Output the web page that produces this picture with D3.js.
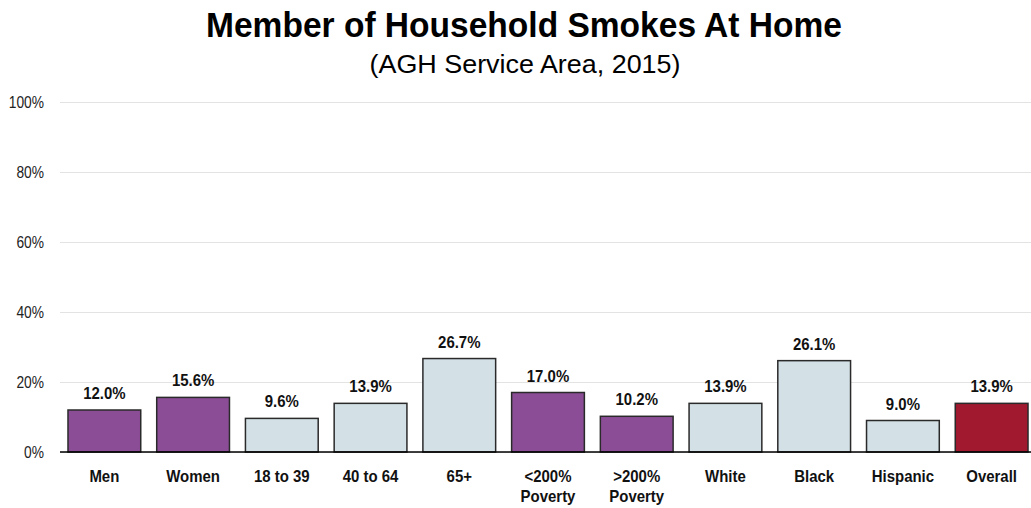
<!DOCTYPE html>
<html>
<head>
<meta charset="utf-8">
<script src="https://cdn.jsdelivr.net/npm/d3@7"></script>
<style>
  body { margin: 0; background: #fff; }
  svg { display: block; }
  text { font-family: "Liberation Sans", Arial, sans-serif; }
  .tick-lbl { font-size: 16px; fill: #222; }
  .val { font-size: 17px; font-weight: bold; fill: #111; }
  .cat { font-size: 17px; font-weight: bold; fill: #111; }
</style>
</head>
<body>
<script>
// data
var categories = ['Men', 'Women', '18 to 39', '40 to 64', '65+', '<200%\nPoverty', '>200%\nPoverty', 'White', 'Black', 'Hispanic', 'Overall'];
var values = [12.0, 15.6, 9.6, 13.9, 26.7, 17.0, 10.2, 13.9, 26.1, 9.0, 13.9];
var groups = ['sex', 'sex', 'age', 'age', 'age', 'income', 'income', 'race', 'race', 'race', 'total'];
var yTicks = [0, 20, 40, 60, 80, 100];

var colorOf = { sex: '#8b4d96', age: '#d3e0e5', income: '#8b4d96', race: '#d3e0e5', total: '#a0192e' };

var W = 1031, H = 508;
var svg = d3.select('body').append('svg').attr('width', W).attr('height', H);

// the original uses a narrow face, which is not installed: squeeze the glyphs instead
function squeeze(sel, f) {
  sel.each(function() {
    var len = this.getComputedTextLength();
    d3.select(this).attr('textLength', len * f).attr('lengthAdjust', 'spacingAndGlyphs');
  });
}

var x = d3.scaleBand()
  .domain(d3.range(categories.length))
  .range([60, 1036])
  .paddingInner(0.18)
  .paddingOuter(0.09);

var y = d3.scaleLinear().domain([0, 100]).range([452, 102]);

// title
svg.append('text')
  .attr('x', 524).attr('y', 37)
  .attr('text-anchor', 'middle')
  .style('font-size', '35px').style('font-weight', 'bold')
  .attr('textLength', 636).attr('lengthAdjust', 'spacingAndGlyphs')
  .text('Member of Household Smokes At Home');

svg.append('text')
  .attr('x', 525).attr('y', 73)
  .attr('text-anchor', 'middle')
  .style('font-size', '25.5px')
  .attr('textLength', 311).attr('lengthAdjust', 'spacingAndGlyphs')
  .text('(AGH Service Area, 2015)');

// gridlines + y labels
var yAxis = d3.axisLeft(y)
  .tickValues(yTicks)
  .tickSize(-(W - 60))
  .tickFormat(d => d + '%');

var gy = svg.append('g')
  .attr('transform', 'translate(60,0)')
  .call(yAxis)
  .attr('font-family', null).attr('font-size', null);
gy.select('.domain').remove();
gy.selectAll('.tick line').attr('stroke', '#e3e3e3').attr('stroke-width', 1);
gy.selectAll('.tick text')
  .attr('class', 'tick-lbl')
  .attr('x', -16)
  .attr('dy', '0.35em')
  .call(squeeze, 0.86);

// bars
svg.append('g').selectAll('rect')
  .data(values)
  .enter()
  .append('rect')
  .attr('x', (d, i) => x(i))
  .attr('y', d => y(d))
  .attr('width', x.bandwidth())
  .attr('height', d => y(0) - y(d))
  .attr('fill', (d, i) => colorOf[groups[i]])
  .attr('stroke', '#2a2a2a')
  .attr('stroke-width', 1.5);

// baseline
svg.append('line')
  .attr('x1', 60).attr('x2', W)
  .attr('y1', y(0)).attr('y2', y(0))
  .attr('stroke', '#000').attr('stroke-width', 1.5);

// value labels
svg.append('g').selectAll('text')
  .data(values)
  .enter()
  .append('text')
  .attr('class', 'val')
  .attr('x', (d, i) => x(i) + x.bandwidth() / 2)
  .attr('y', d => y(d) - 11)
  .attr('text-anchor', 'middle')
  .text(d => d.toFixed(1) + '%')
  .call(squeeze, 0.88);

// category labels
var cats = svg.append('g').selectAll('text')
  .data(categories)
  .enter()
  .append('text')
  .attr('class', 'cat')
  .attr('text-anchor', 'middle')
  .attr('x', (d, i) => x(i) + x.bandwidth() / 2)
  .attr('y', 482);

cats.selectAll('tspan')
  .data(d => d.split('\n'))
  .enter()
  .append('tspan')
  .attr('x', function() { return d3.select(this.parentNode).attr('x'); })
  .attr('y', (d, i) => 482 + i * 20)
  .text(d => d)
  .call(squeeze, 0.88);
</script>
</body>
</html>
